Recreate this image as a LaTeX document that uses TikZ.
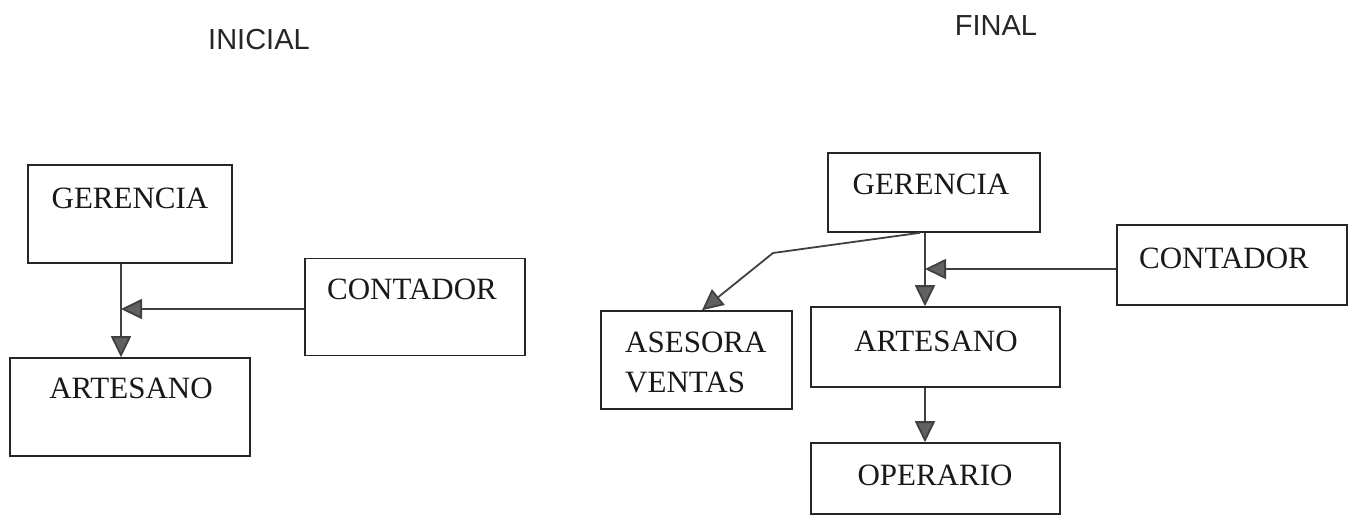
\documentclass[tikz,border=0pt]{standalone}
\usepackage{fontspec}
\setmainfont{Liberation Serif}
\newfontfamily\hdrfont{Liberation Sans}
\usetikzlibrary{arrows.meta}
\tikzset{
  orgbox/.style={draw=black!85, line width=1.6pt, inner sep=0pt},
  boxtext/.style={font=\fontsize{31}{36}\selectfont, anchor=base, inner sep=0pt, text=black!90},
  hdr/.style={font=\hdrfont\fontsize{29}{34}\selectfont, text=black!85, inner sep=0pt},
  conn/.style={draw=black!75, line width=1.8pt,
    -{Triangle[length=21pt,width=20pt,fill=black!62]}},
}
\begin{document}
\begin{tikzpicture}[x=1pt,y=-1pt]
\useasboundingbox[fill=white] (0,0) rectangle (1352,516);
% headers
\node[hdr] (hini) at (259,40) {INICIAL};
\node[hdr] (hfin) at (996,26) {FINAL};
% ---------- INICIAL ----------
\node[orgbox, minimum width=204pt, minimum height=98pt] (g1) at (130,214) {};
\node[boxtext] (g1t) at (130,208) {GERENCIA};
\node[orgbox, minimum width=220pt, minimum height=97pt] (c1) at (415,307) {};
\node[boxtext] (c1t) at (412,299) {CONTADOR};
\node[orgbox, minimum width=240pt, minimum height=98pt] (a1) at (130,407) {};
\node[boxtext] (a1t) at (131,398) {ARTESANO};
\coordinate (v1) at (121,0);
\coordinate (h1) at (0,309);
\draw[conn] (g1.south -| v1) -- (a1.north -| v1);
\draw[conn] (c1.west |- h1) -- (v1 |- h1);
% ---------- FINAL ----------
\node[orgbox, minimum width=212pt, minimum height=79pt] (g2) at (934,192.5) {};
\node[boxtext] (g2t) at (931,194) {GERENCIA};
\node[orgbox, minimum width=230pt, minimum height=80pt] (c2) at (1232,265) {};
\node[boxtext] (c2t) at (1224,268) {CONTADOR};
\node[orgbox, minimum width=191pt, minimum height=98pt] (s2) at (696.5,360) {};
\node[boxtext, anchor=base west] (s2t1) at (625,352) {ASESORA};
\node[boxtext, anchor=base west] (s2t2) at (625,392) {VENTAS};
\node[orgbox, minimum width=249pt, minimum height=80pt] (a2) at (935.5,347) {};
\node[boxtext] (a2t) at (936,351) {ARTESANO};
\node[orgbox, minimum width=249pt, minimum height=71pt] (o2) at (935.5,478.5) {};
\node[boxtext] (o2t) at (935,485) {OPERARIO};
\coordinate (v2) at (925,0);
\coordinate (h2) at (0,269);
\coordinate (b2) at (773,253);
\draw[conn] (g2.south -| v2) -- (a2.north -| v2);
\draw[conn] (c2.west |- h2) -- (v2 |- h2);
\draw[conn] ([xshift=-14pt]g2.south) -- (b2) -- (s2.north -| 702,0);
\draw[conn] (a2.south -| v2) -- (o2.north -| v2);
\end{tikzpicture}
\end{document}
